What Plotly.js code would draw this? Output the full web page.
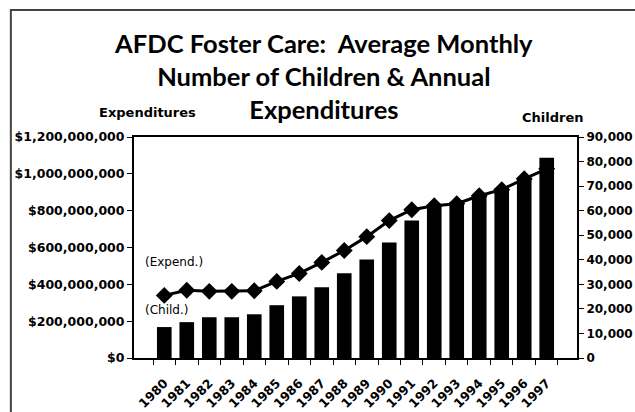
<!DOCTYPE html>
<html>
<head>
<meta charset="utf-8">
<script src="https://cdn.plot.ly/plotly-3.0.1.min.js"></script>
<style>
    body { margin: 0; background: white; }
    #chart { width: 635px; height: 412px; }
</style>
</head>
<body>
<div id="chart"></div>
<script>
// Data
const years = ['1980', '1981', '1982', '1983', '1984', '1985', '1986', '1987', '1988',
    '1989', '1990', '1991', '1992', '1993', '1994', '1995', '1996', '1997'];
const children = [12600, 14600, 16600, 16600, 17800, 21500, 25100, 28800, 34500,
    40100, 47000, 56000, 62000, 63500, 66000, 69000, 73000, 81500];
const expenditures = [340000000, 368000000, 362000000, 362000000, 365000000, 416000000,
    459000000, 519000000, 584000000, 659000000, 746000000, 805000000, 827000000,
    838000000, 881000000, 914000000, 973000000, 1027000000];

const boldFont = (size) => ({ family: 'DejaVu Sans', size: size, weight: 'bold', color: 'black' });

function createChart() {
    const expendTrace = {
        x: years,
        y: expenditures,
        name: 'Expenditures',
        type: 'scatter',
        mode: 'lines+markers',
        line: { color: 'black', width: 3 },
        marker: { symbol: 'diamond', size: 13, color: 'black' },
        yaxis: 'y'
    };

    const childTrace = {
        x: years,
        y: children,
        name: 'Children',
        type: 'bar',
        marker: { color: 'black' },
        yaxis: 'y2'
    };

    const layout = {
        width: 635,
        height: 412,
        margin: { l: 134, r: 58, t: 137, b: 54 },
        paper_bgcolor: 'white',
        plot_bgcolor: 'white',
        showlegend: false,
        bargap: 0.35,
        separators: '.,',
        title: {
            text: 'AFDC Foster Care:\u00a0 Average Monthly<br>Number of Children &amp; Annual<br>Expenditures',
            font: { family: 'Lato', size: 25.5, weight: 'bold', color: 'black' },
            x: 0.51,
            xanchor: 'center',
            y: 0.872,
            yanchor: 'top'
        },
        xaxis: {
            type: 'category',
            tickangle: -45,
            tickfont: boldFont(12.5),
            ticks: 'outside',
            tickson: 'boundaries',
            ticklen: 5,
            tickcolor: 'black',
            ticklabelstandoff: 11,
            showline: true,
            linecolor: 'black',
            linewidth: 2,
            mirror: true,
            showgrid: false
        },
        yaxis: {
            range: [0, 1200000000],
            dtick: 200000000,
            tickformat: ',d',
            tickprefix: '$',
            tickfont: boldFont(12.5),
            ticks: 'outside',
            ticklen: 5,
            tickcolor: 'black',
            showline: true,
            linecolor: 'black',
            linewidth: 2,
            showgrid: false,
            zeroline: false
        },
        yaxis2: {
            range: [0, 90000],
            dtick: 10000,
            tickformat: ',d',
            tickfont: boldFont(12),
            ticks: 'outside',
            ticklen: 5,
            tickcolor: 'black',
            overlaying: 'y',
            side: 'right',
            showline: true,
            linecolor: 'black',
            linewidth: 2,
            showgrid: false,
            zeroline: false
        },
        annotations: [
            { text: 'Expenditures', xref: 'paper', yref: 'paper', x: -0.0835, y: 1.109, yanchor: 'middle',
              showarrow: false, font: boldFont(13) },
            { text: 'Children', xref: 'paper', yref: 'paper', x: 1.02, y: 1.086, yanchor: 'middle',
              showarrow: false, font: boldFont(13) },
            { text: '(Expend.)', xref: 'paper', yref: 'paper', x: 0.02, y: 0.434,
              xanchor: 'left', yanchor: 'middle',
              showarrow: false, font: { family: 'DejaVu Sans', size: 12, color: 'black' } },
            { text: '(Child.)', xref: 'paper', yref: 'paper', x: 0.02, y: 0.217,
              xanchor: 'left', yanchor: 'middle',
              showarrow: false, font: { family: 'DejaVu Sans', size: 12, color: 'black' } }
        ],
        shapes: [
            // outer frame of the figure
            { type: 'rect', xref: 'paper', yref: 'paper', x0: -0.278, x1: 1.25, y0: -0.4, y1: 1.575,
              line: { color: '#444', width: 2 } }
        ]
    };

    Plotly.newPlot('chart', [expendTrace, childTrace], layout, { staticPlot: true });
}

createChart();
</script>
</body>
</html>
